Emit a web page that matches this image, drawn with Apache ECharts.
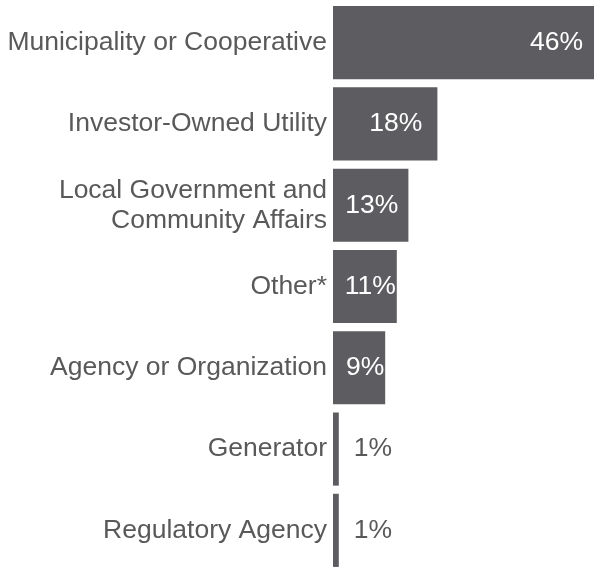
<!DOCTYPE html>
<html>
<head>
<meta charset="utf-8">
<script src="https://cdn.jsdelivr.net/npm/echarts@6/dist/echarts.min.js"></script>
<style>
  html, body { margin: 0; padding: 0; background: #fff; }
  #chart { width: 594px; height: 571px; }
</style>
</head>
<body>
<div id="chart"></div>
<script>
var categories = [
  'Municipality or Cooperative',
  'Investor-Owned Utility',
  'Local Government and\nCommunity Affairs',
  'Other*',
  'Agency or Organization',
  'Generator',
  'Regulatory Agency'
]
var values = [46, 18, 13, 11, 9, 1, 1]

var barColor = '#5d5d61'
var textColor = '#595959'
var font = 'Liberation Sans, Arial, sans-serif'

// label placement depends on how wide the bar is
function labelFor(v) {
  if (v >= 40) {
    return { position: 'insideRight', distance: 11, color: '#fff' }
  }
  if (v >= 15) {
    return { position: 'insideRight', distance: 15, color: '#fff' }
  }
  if (v >= 12) {
    return { position: 'insideRight', distance: 10, color: '#fff' }
  }
  if (v >= 5) {
    return { position: 'insideRight', distance: 1, color: '#fff' }
  }
  return { position: 'right', distance: 15, color: textColor }
}

var chart = echarts.init(document.getElementById('chart'))
chart.setOption({
  animation: false,
  grid: {
    left: 333,
    right: 0,
    top: 2,
    height: 574,
    containLabel: false
  },
  xAxis: {
    type: 'value',
    min: 0,
    max: 45,
    show: false
  },
  yAxis: {
    type: 'category',
    inverse: true,
    data: categories,
    axisLine: { show: false },
    axisTick: { show: false },
    axisLabel: {
      margin: 6,
      color: textColor,
      fontFamily: font,
      fontSize: 26.5,
      lineHeight: 30,
      align: 'right'
    }
  },
  series: [{
    type: 'bar',
    barCategoryGap: '10%',
    itemStyle: { color: barColor },
    label: {
      show: true,
      fontFamily: font,
      fontSize: 26.5,
      formatter: '{c}%'
    },
    data: values.map(function(v) {
      return { value: v, label: labelFor(v) }
    })
  }]
})
</script>
</body>
</html>
